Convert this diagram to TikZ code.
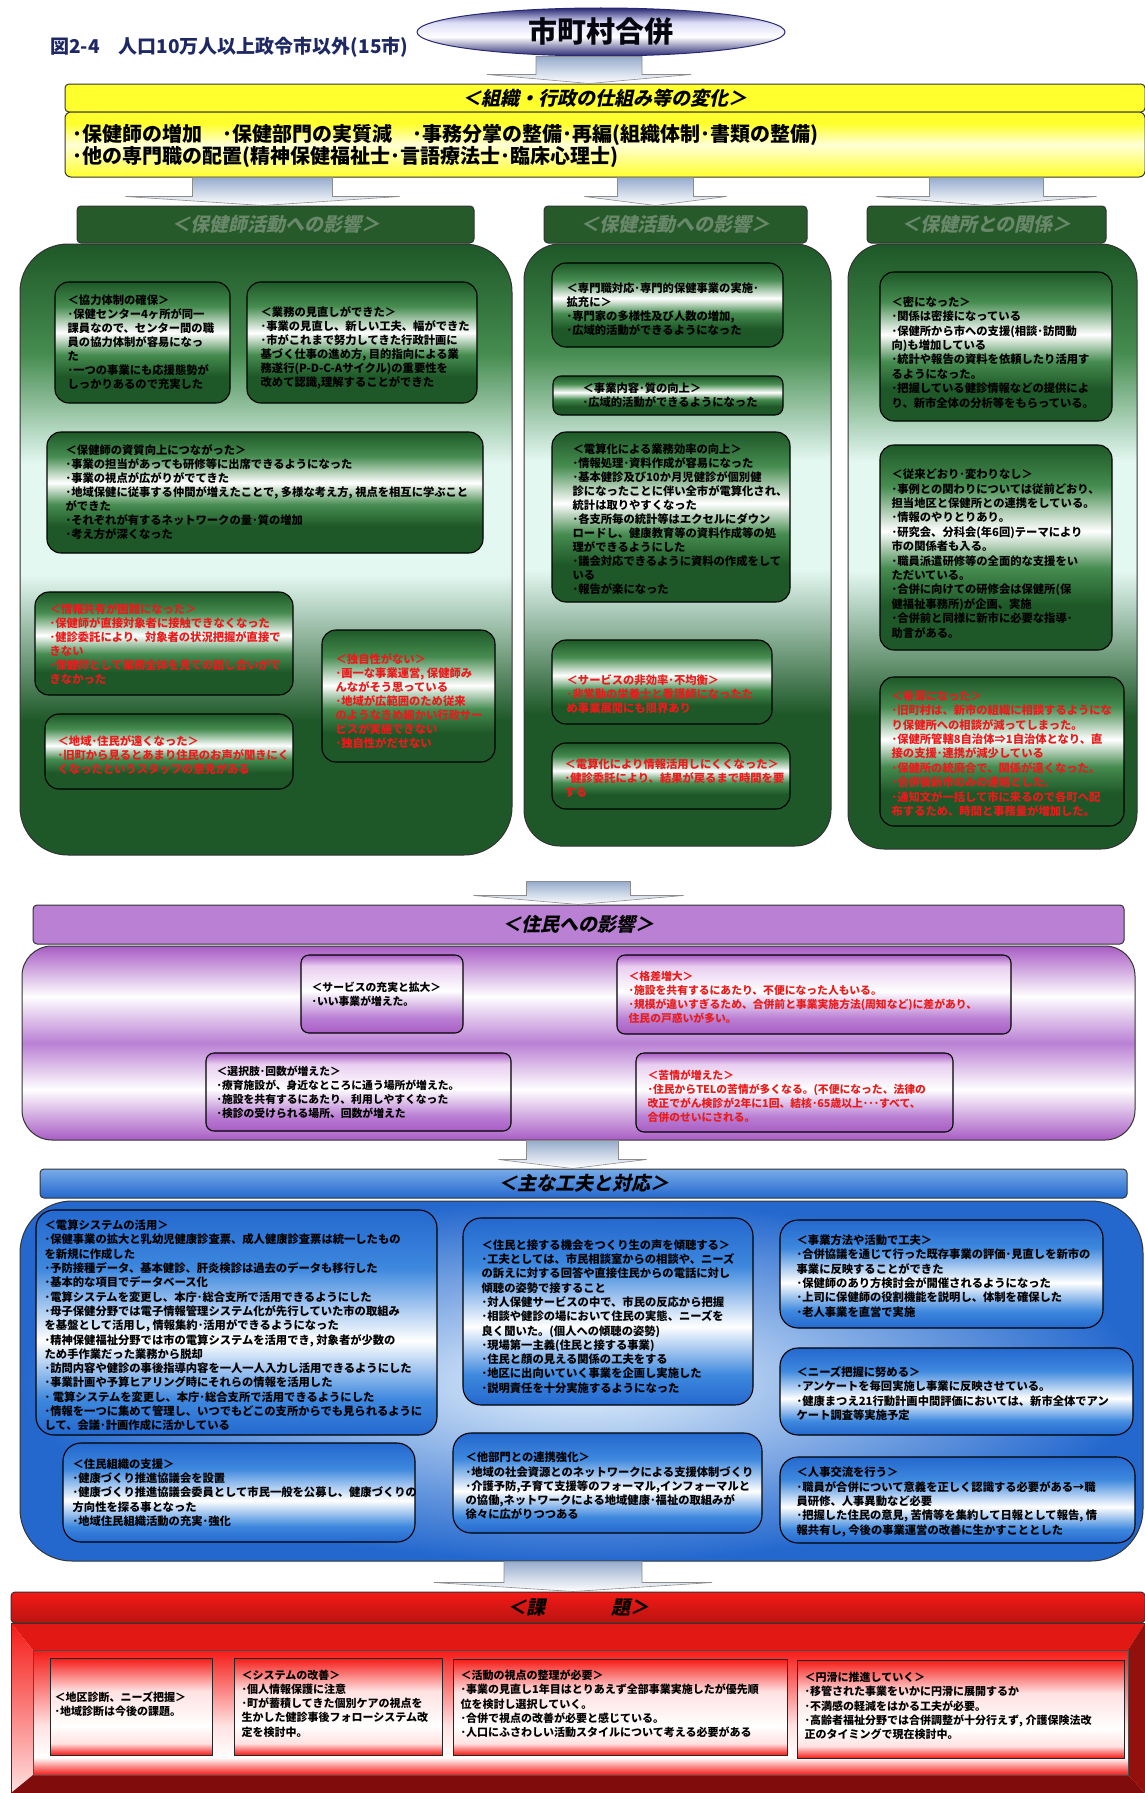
\documentclass[tikz,border=0pt]{standalone}
\usepackage{fontspec}
\setmainfont{Noto Sans CJK JP}
\newfontfamily\slantfont{Noto Sans CJK JP}[FakeSlant=0.22]
\usetikzlibrary{calc,positioning,shapes.geometric,fit}

\definecolor{gdark}{RGB}{30,88,40}
\definecolor{gmid}{RGB}{70,140,80}
\definecolor{gpale}{RGB}{228,248,242}
\definecolor{ghead}{RGB}{38,90,42}
\definecolor{ghtext}{RGB}{105,135,105}
\definecolor{pdark}{RGB}{168,92,196}
\definecolor{plight}{RGB}{232,205,240}
\definecolor{phead}{RGB}{186,128,212}
\definecolor{bdark}{RGB}{36,104,206}
\definecolor{bhead}{RGB}{62,136,222}
\definecolor{bpale}{RGB}{232,244,253}
\definecolor{rbright}{RGB}{245,26,22}
\definecolor{rpale}{RGB}{255,225,225}
\definecolor{rdark}{RGB}{128,12,12}
\definecolor{yband}{RGB}{255,255,45}
\definecolor{ypale}{RGB}{255,255,215}
\definecolor{redtext}{RGB}{232,28,28}
\definecolor{arrowtop}{RGB}{150,172,205}
\definecolor{titleblue}{RGB}{30,40,100}
\definecolor{navy}{RGB}{40,40,115}
\definecolor{lavender}{RGB}{220,220,248}

\pgfdeclareverticalshading{gpanelband}{100bp}{color(0bp)=(gdark); color(25bp)=(gdark); color(36bp)=(gdark); color(48bp)=(gpale); color(57bp)=(gpale); color(66bp)=(gmid); color(75bp)=(gdark); color(100bp)=(gdark)}
\pgfdeclareverticalshading{gboxband}{100bp}{color(0bp)=(gdark); color(25bp)=(gdark); color(36bp)=(gdark); color(45bp)=(gmid); color(54bp)=(white); color(65bp)=(gmid); color(75bp)=(gdark); color(100bp)=(gdark)}
\pgfdeclareverticalshading{pboxband}{100bp}{color(0bp)=(pdark); color(25bp)=(pdark); color(35bp)=(phead); color(52bp)=(white); color(68bp)=(plight); color(75bp)=(pdark); color(100bp)=(pdark)}
\pgfdeclareverticalshading{ppanelband}{100bp}{color(0bp)=(pdark); color(25bp)=(pdark); color(38bp)=(white); color(50bp)=(phead); color(62bp)=(white); color(75bp)=(pdark); color(100bp)=(pdark)}
\pgfdeclareverticalshading{bboxband}{100bp}{color(0bp)=(bdark); color(25bp)=(bdark); color(33bp)=(bhead); color(46bp)=(white); color(62bp)=(bhead); color(75bp)=(bdark); color(100bp)=(bdark)}
\pgfdeclareverticalshading{rboxband}{100bp}{color(0bp)=(rbright); color(25bp)=(rbright); color(31bp)=(rpale); color(40bp)=(white); color(58bp)=(rpale); color(75bp)=(rbright); color(100bp)=(rbright)}
\pgfdeclareverticalshading{rpanelband}{100bp}{color(0bp)=(rbright); color(25bp)=(rbright); color(32bp)=(white); color(45bp)=(rpale); color(75bp)=(rbright); color(100bp)=(rbright)}
\pgfdeclareverticalshading{yellowband}{100bp}{color(0bp)=(yband); color(25bp)=(yband); color(50bp)=(ypale); color(66bp)=(yband); color(75bp)=(yband); color(100bp)=(yband)}
\pgfdeclareverticalshading{mergeband}{100bp}{color(0bp)=(navy); color(25bp)=(navy); color(45bp)=(white); color(60bp)=(lavender); color(75bp)=(navy); color(100bp)=(navy)}

\makeatletter
\tikzset{
  fitting node/.style={
    inner sep=0pt,
    fill=none,
    draw=none,
    reset transform,
    fit={(\pgf@pathminx,\pgf@pathminy) (\pgf@pathmaxx,\pgf@pathmaxy)}
  },
  reset transform/.code={\pgftransformreset}
}
\makeatother

\tikzset{
  green panel/.style={shading=gpanelband, draw=black!80, line width=1pt},
  green box/.style={shading=gboxband, draw=black, line width=1.1pt, rounded corners=14pt},
  purple box/.style={shading=pboxband, draw=black, line width=1.1pt, rounded corners=8pt},
  blue box/.style={shading=bboxband, draw=black, line width=1.1pt, rounded corners=18pt},
  red box/.style={shading=rboxband, draw=black!85, line width=1pt},
  green text/.style={anchor=west, align=left, inner sep=0pt, font=\bfseries\fontsize{11.3}{14}\selectfont},
  right text/.style={green text, font=\bfseries\fontsize{11.3}{14.4}\selectfont},
  purple text/.style={green text, font=\bfseries\fontsize{10.8}{14}\selectfont},
  blue text/.style={green text, font=\bfseries\fontsize{11.3}{14.3}\selectfont},
  red box text/.style={green text, font=\bfseries\fontsize{11}{14.3}\selectfont},
  warn/.style={text=redtext},
  title bar/.style={rounded corners=4pt, draw=black!80, line width=1pt, inner sep=0pt,
    font=\slantfont\bfseries\fontsize{19}{22}\selectfont},
  flow arrow/.style={top color=arrowtop, bottom color=white, draw=black!45, line width=0.6pt}
}

% block arrow: from (#1) down to (#2), shaft and head half widths
\newcommand{\flowarrow}[4]{%
  \shadedraw[flow arrow] let \p1=#1, \p2=#2 in
    (\x2-#3,\y1) -- (\x2+#3,\y1) -- (\x2+#3,\y2+9pt) -- (\x2+#4,\y2+9pt)
    -- (\x2,\y2) -- (\x2-#4,\y2+9pt) -- (\x2-#3,\y2+9pt) -- cycle;}

\begin{document}
\begin{tikzpicture}[x=1pt,y=-1pt]
  \useasboundingbox (0,0) rectangle (1145,1793);
  \fill[white] (0,0) rectangle (1145,1793);

  % merger and organisation
  \node (merge) [ellipse, shading=mergeband, draw=navy, line width=1pt, minimum width=368pt,
    minimum height=48pt, inner sep=0pt, font=\bfseries\fontsize{29}{32}\selectfont, text=black!85!navy] at (601,32) {市町村合併};
  \node (title) [left=8pt of merge, yshift=-15pt, inner sep=0pt, text=titleblue,
    font=\bfseries\fontsize{19}{22}\selectfont] {図2-4　人口10万人以上政令市以外(15市)};

  \node (orgbar) [title bar, fill=yband, minimum width=1080pt, minimum height=28pt] at (605,98) {＜組織・行政の仕組み等の変化＞};
  \shadedraw[shading=yellowband, draw=black!80, line width=1pt, rounded corners=6pt] (65,112) rectangle (1145,177) node[fitting node] (orgbody) {};
  \node (orgbody_label) [green text, font=\bfseries\fontsize{20}{22}\selectfont] at ([xshift=8pt,yshift=-1pt]orgbody.west)
    {･保健師の増加　･保健部門の実質減　･事務分掌の整備･再編(組織体制･書類の整備)\\
     ･他の専門職の配置(精神保健福祉士･言語療法士･臨床心理士)};

  % green panels
  \shadedraw[green panel, rounded corners=48pt] (20,244) rectangle (512,855) node[fitting node] (gp1) {};
  \shadedraw[green panel, rounded corners=36pt] (524,244) rectangle (831,846) node[fitting node] (gp2) {};
  \shadedraw[green panel, rounded corners=36pt] (848,244) rectangle (1137,849) node[fitting node] (gp3) {};

  \node (hd1) [title bar, fill=ghead, text=ghtext, minimum width=397pt, minimum height=37pt] at (275.5,224.5) {＜保健師活動への影響＞};
  \node (hd2) [title bar, fill=ghead, text=ghtext, minimum width=263pt, minimum height=37pt] at (675.5,224.5) {＜保健活動への影響＞};
  \node (hd3) [title bar, fill=ghead, text=ghtext, minimum width=239pt, minimum height=37pt] at (986.5,224.5) {＜保健所との関係＞};

  % left column
  \shadedraw[green box] (55,282) rectangle (230,403) node[fitting node] (coop) {};
  \node (coop_label) [green text] at ([xshift=13pt]coop.west)
    {＜協力体制の確保＞\\･保健センター4ヶ所が同一\\課員なので、センター間の職\\員の協力体制が容易になっ\\た\\･一つの事業にも応援態勢が\\しっかりあるので充実した};
  \shadedraw[green box] (247,282) rectangle (477,403) node[fitting node] (review) {};
  \node (review_label) [green text] at ([xshift=14pt,yshift=-5pt]review.west)
    {＜業務の見直しができた＞\\･事業の見直し、新しい工夫、幅ができた\\･市がこれまで努力してきた行政計画に\\基づく仕事の進め方, 目的指向による業\\務遂行(P-D-C-Aサイクル)の重要性を\\改めて認識,理解することができた};
  \shadedraw[green box] (47,432) rectangle (483,553) node[fitting node] (quality) {};
  \node (quality_label) [green text] at ([xshift=19pt]quality.west)
    {＜保健師の資質向上につながった＞\\･事業の担当があっても研修等に出席できるようになった\\･事業の視点が広がりがでてきた\\･地域保健に従事する仲間が増えたことで, 多様な考え方, 視点を相互に学ぶこと\\ができた\\･それぞれが有するネットワークの量･質の増加\\･考え方が深くなった};
  \shadedraw[green box] (35,592) rectangle (293,695) node[fitting node] (share) {};
  \node (share_label) [green text, warn] at ([xshift=15pt]share.west)
    {＜情報共有が困難になった＞\\･保健師が直接対象者に接触できなくなった\\･健診委託により、対象者の状況把握が直接で\\きない\\･保健師として業務全体を見ての話し合いがで\\きなかった};
  \shadedraw[green box] (45,714) rectangle (293,789) node[fitting node] (distant) {};
  \node (distant_label) [green text, warn] at ([xshift=13pt,yshift=-4pt]distant.west)
    {＜地域･住民が遠くなった＞\\･旧町から見るとあまり住民のお声が聞きにく\\くなったというスタッフの意見がある};
  \shadedraw[green box] (322,630) rectangle (495,762) node[fitting node] (unique) {};
  \node (unique_label) [green text, warn] at ([xshift=14pt,yshift=-5pt]unique.west)
    {＜独自性がない＞\\･画一な事業運営, 保健師み\\んながそう思っている\\･地域が広範囲のため従来\\のようなきめ細かい行政サー\\ビスが実施できない\\･独自性がだせない};

  % middle column
  \shadedraw[green box] (552,263) rectangle (783,347) node[fitting node] (special) {};
  \node (special_label) [green text] at ([xshift=15pt,yshift=-4pt]special.west)
    {＜専門職対応･専門的保健事業の実施･\\拡充に＞\\･専門家の多様性及び人数の増加,\\･広域的活動ができるようになった};
  \shadedraw[green box, rounded corners=8pt] (553,376) rectangle (783,415) node[fitting node] (content) {};
  \node (content_label) [green text] at ([xshift=30pt]content.west)
    {＜事業内容･質の向上＞\\･広域的活動ができるようになった};
  \shadedraw[green box] (552,432) rectangle (790,602) node[fitting node] (compute) {};
  \node (compute_label) [green text] at ([xshift=21pt,yshift=-2pt]compute.west)
    {＜電算化による業務効率の向上＞\\･情報処理･資料作成が容易になった\\･基本健診及び10か月児健診が個別健\\診になったことに伴い全市が電算化され、\\統計は取りやすくなった\\･各支所毎の統計等はエクセルにダウン\\ロードし、健康教育等の資料作成等の処\\理ができるようにした\\･議会対応できるように資料の作成をして\\いる\\･報告が楽になった};
  \shadedraw[green box] (552,640) rectangle (772,724) node[fitting node] (service) {};
  \node (service_label) [green text, warn] at ([xshift=15pt,yshift=-12pt]service.west)
    {＜サービスの非効率･不均衡＞\\･非常勤の栄養士と看護師になったた\\め事業展開にも限界あり};
  \shadedraw[green box] (552,743) rectangle (790,809) node[fitting node] (datause) {};
  \node (datause_label) [green text, warn] at ([xshift=13pt,yshift=-2pt]datause.west)
    {＜電算化により情報活用しにくくなった＞\\･健診委託により、結果が戻るまで時間を要\\する};

  % right column
  \shadedraw[green box] (880,272) rectangle (1112,421) node[fitting node] (close) {};
  \node (close_label) [right text] at ([xshift=12pt,yshift=-6pt]close.west)
    {＜密になった＞\\･関係は密接になっている\\･保健所から市への支援(相談･訪問動\\向)も増加している\\･統計や報告の資料を依頼したり活用す\\るようになった。\\･把握している健診情報などの提供によ\\り、新市全体の分析等をもらっている。};
  \shadedraw[green box] (880,445) rectangle (1112,650) node[fitting node] (same) {};
  \node (same_label) [right text] at ([xshift=12pt,yshift=-6pt]same.west)
    {＜従来どおり･変わりなし＞\\･事例との関わりについては従前どおり、\\担当地区と保健所との連携をしている。\\･情報のやりとりあり。\\ ･研究会、分科会(年6回)テーマにより\\市の関係者も入る。\\･職員派遣研修等の全面的な支援をい\\ただいている。\\･合併に向けての研修会は保健所(保\\健福祉事務所)が企画、実施\\･合併前と同様に新市に必要な指導･\\助言がある。};
  \shadedraw[green box] (880,677) rectangle (1124,826) node[fitting node] (weak) {};
  \node (weak_label) [right text, warn] at ([xshift=12pt,yshift=-2pt]weak.west)
    {＜希薄になった＞\\･旧町村は、新市の組織に相談するようにな\\り保健所への相談が減ってしまった。\\･保健所管轄8自治体⇒1自治体となり、直\\接の支援･連携が減少している\\･保健所の統廃合で、関係が遠くなった。\\･合併後新市のみの連絡とした。\\･通知文が一括して市に来るので各町へ配\\布するため、時間と事務量が増加した。};

  % residents
  \node (purhd) [title bar, fill=phead, minimum width=1091pt, minimum height=39pt] at (578.5,924.5) {＜住民への影響＞};
  \shadedraw[shading=ppanelband, draw=black!80, line width=1pt, rounded corners=30pt] (22,946) rectangle (1135,1140) node[fitting node] (purbody) {};
  \shadedraw[purple box] (301,955) rectangle (463,1033) node[fitting node] (fuller) {};
  \node (fuller_label) [purple text] at ([xshift=11pt]fuller.west)
    {＜サービスの充実と拡大＞\\･いい事業が増えた。};
  \shadedraw[purple box] (617,955) rectangle (1011,1034) node[fitting node] (gap) {};
  \node (gap_label) [purple text, warn] at ([xshift=12pt,yshift=-3pt]gap.west)
    {＜格差増大＞\\･施設を共有するにあたり、不便になった人もいる。\\･規模が違いすぎるため、合併前と事業実施方法(周知など)に差があり、\\住民の戸惑いが多い。};
  \shadedraw[purple box] (206,1053) rectangle (511,1131) node[fitting node] (choice) {};
  \node (choice_label) [purple text] at ([xshift=11pt]choice.west)
    {＜選択肢･回数が増えた＞\\･療育施設が、身近なところに通う場所が増えた。\\･施設を共有するにあたり、利用しやすくなった\\･検診の受けられる場所、回数が増えた};
  \shadedraw[purple box] (636,1053) rectangle (953,1132) node[fitting node] (complaint) {};
  \node (complaint_label) [purple text, warn] at ([xshift=12pt,yshift=-4pt]complaint.west)
    {＜苦情が増えた＞\\･住民からTELの苦情が多くなる。(不便になった、法律の\\改正でがん検診が2年に1回、結核･65歳以上･･･すべて、\\合併のせいにされる。};

  % measures
  \node (bluhd) [title bar, top color=bhead!70!white, bottom color=bdark, minimum width=1087pt, minimum height=29pt] at (583.5,1183.5) {＜主な工夫と対応＞};
  \shadedraw[inner color=bpale, outer color=bdark, draw=black!80, line width=1pt, rounded corners=52pt] (20,1201) rectangle (1143,1561) node[fitting node] (blubody) {};
  \shadedraw[blue box] (36,1210) rectangle (437,1435) node[fitting node] (system) {};
  \node (system_label) [blue text] at ([xshift=9pt,yshift=-3pt]system.west)
    {＜電算システムの活用＞\\･保健事業の拡大と乳幼児健康診査票、成人健康診査票は統一したもの\\を新規に作成した\\･予防接種データ、基本健診、肝炎検診は過去のデータも移行した\\･基本的な項目でデータベース化\\･電算システムを変更し、本庁･総合支所で活用できるようにした\\･母子保健分野では電子情報管理システム化が先行していた市の取組み\\を基盤として活用し, 情報集約･活用ができるようになった\\･精神保健福祉分野では市の電算システムを活用でき, 対象者が少数の\\ため手作業だった業務から脱却\\･訪問内容や健診の事後指導内容を一人一人入力し活用できるようにした\\･事業計画や予算ヒアリング時にそれらの情報を活用した\\･ 電算システムを変更し、本庁･総合支所で活用できるようにした\\･情報を一つに集めて管理し、いつでもどこの支所からでも見られるように\\して、会議･計画作成に活かしている};
  \shadedraw[blue box] (63,1443) rectangle (415,1542) node[fitting node] (group) {};
  \node (group_label) [blue text] at ([xshift=10pt]group.west)
    {＜住民組織の支援＞\\･健康づくり推進協議会を設置\\･健康づくり推進協議会委員として市民一般を公募し、健康づくりの\\方向性を探る事となった\\･地域住民組織活動の充実･強化};
  \shadedraw[blue box] (463,1218) rectangle (753,1405) node[fitting node] (listen) {};
  \node (listen_label) [blue text] at ([xshift=19pt,yshift=-5pt]listen.west)
    {＜住民と接する機会をつくり生の声を傾聴する＞\\･工夫としては、市民相談室からの相談や、ニーズ\\の訴えに対する回答や直接住民からの電話に対し\\傾聴の姿勢で接すること\\･対人保健サービスの中で、市民の反応から把握\\･相談や健診の場において住民の実態、ニーズを\\良く聞いた。(個人への傾聴の姿勢)\\･現場第一主義(住民と接する事業)\\･住民と顔の見える関係の工夫をする\\･地区に出向いていく事業を企画し実施した\\･説明責任を十分実施するようになった};
  \shadedraw[blue box] (453,1433) rectangle (762,1533) node[fitting node] (partner) {};
  \node (partner_label) [blue text] at ([xshift=13pt,yshift=-3pt]partner.west)
    {＜他部門との連携強化＞\\･地域の社会資源とのネットワークによる支援体制づくり\\･介護予防,子育て支援等のフォーマル,インフォーマルと\\の協働,ネットワークによる地域健康･福祉の取組みが\\徐々に広がりつつある};
  \shadedraw[blue box] (780,1220) rectangle (1103,1328) node[fitting node] (method) {};
  \node (method_label) [blue text] at ([xshift=17pt,yshift=-2pt]method.west)
    {＜事業方法や活動で工夫＞\\･合併協議を通じて行った既存事業の評価･見直しを新市の\\事業に反映することができた\\･保健師のあり方検討会が開催されるようになった\\･上司に保健師の役割機能を説明し、体制を確保した\\･老人事業を直営で実施};
  \shadedraw[blue box] (780,1348) rectangle (1133,1435) node[fitting node] (needs) {};
  \node (needs_label) [blue text] at ([xshift=17pt,yshift=-2pt]needs.west)
    {＜ニーズ把握に努める＞\\･アンケートを毎回実施し事業に反映させている。\\･健康まつえ21行動計画中間評価においては、新市全体でアン\\ケート調査等実施予定};
  \shadedraw[blue box] (780,1457) rectangle (1135,1543) node[fitting node] (staff) {};
  \node (staff_label) [blue text] at ([xshift=17pt,yshift=-2pt]staff.west)
    {＜人事交流を行う＞\\･職員が合併について意義を正しく認識する必要がある→職\\員研修、人事異動など必要\\･把握した住民の意見, 苦情等を集約して日報として報告, 情\\報共有し, 今後の事業運営の改善に生かすこととした};

  % issues
  \node (redhd) [title bar, top color=rbright, bottom color=rbright!75!black, minimum width=1134pt, minimum height=31pt] at (578,1607.5) {＜課\hspace{66pt}題＞};
  \fill[rbright!92!black] (11,1623) -- (1145,1623) -- (1128,1650) -- (33,1650) -- cycle;
  \shade[top color=rbright, bottom color=rpale] (11,1623) -- (33,1650) -- (33,1775) -- (11,1793) -- cycle;
  \fill[rdark] (11,1793) -- (33,1775) -- (1128,1775) -- (1145,1793) -- cycle;
  \fill[rbright!60!black] (1145,1623) -- (1128,1650) -- (1128,1775) -- (1145,1793) -- cycle;
  \shadedraw[shading=rpanelband, draw=black!70, line width=0.8pt] (33,1650) rectangle (1128,1775);
  \draw[black!80, line width=1pt] (11,1623) rectangle (1145,1793) node[fitting node] (redpanel) {};
  \shadedraw[red box] (50,1658) rectangle (212,1755) node[fitting node] (diagnosis) {};
  \node (diagnosis_label) [red box text] at ([xshift=5pt,yshift=2pt]diagnosis.west)
    {＜地区診断、ニーズ把握＞\\･地域診断は今後の課題。};
  \shadedraw[red box] (234,1658) rectangle (442,1755) node[fitting node] (improve) {};
  \node (improve_label) [red box text] at ([xshift=8pt,yshift=3pt]improve.west)
    {＜システムの改善＞\\･個人情報保護に注意\\･町が蓄積してきた個別ケアの視点を\\生かした健診事後フォローシステム改\\定を検討中。};
  \shadedraw[red box] (453,1659) rectangle (787,1755) node[fitting node] (viewpoint) {};
  \node (viewpoint_label) [red box text] at ([xshift=8pt,yshift=3pt]viewpoint.west)
    {＜活動の視点の整理が必要＞\\･事業の見直し1年目はとりあえず全部事業実施したが優先順\\位を検討し選択していく。\\･合併で視点の改善が必要と感じている。\\･人口にふさわしい活動スタイルについて考える必要がある};
  \shadedraw[red box] (797,1660) rectangle (1124,1758) node[fitting node] (smooth) {};
  \node (smooth_label) [red box text] at ([xshift=8pt,yshift=3pt]smooth.west)
    {＜円滑に推進していく＞\\･移管された事業をいかに円滑に展開するか\\･不満感の軽減をはかる工夫が必要。\\･高齢者福祉分野では合併調整が十分行えず, 介護保険法改\\正のタイミングで現在検討中。};

  % arrows between the stages
  \flowarrow{(merge.south)}{([xshift=-12pt]merge.south |- orgbar.north)}{53pt}{102pt}
  \flowarrow{(orgbody.south)}{([xshift=-13pt]hd1.north)}{70pt}{137pt}
  \flowarrow{(orgbody.south)}{([xshift=-20pt]hd2.north)}{38pt}{71pt}
  \flowarrow{(orgbody.south)}{(hd3.north)}{57pt}{110pt}
  \flowarrow{([yshift=-35pt]gp2.south)}{(purhd.north)}{52pt}{105pt}
  \flowarrow{(purbody.south)}{([xshift=-11pt]bluhd.north)}{46pt}{74pt}
  \flowarrow{(blubody.south)}{([xshift=-5pt]redhd.north)}{69pt}{139pt}
\end{tikzpicture}
\end{document}
